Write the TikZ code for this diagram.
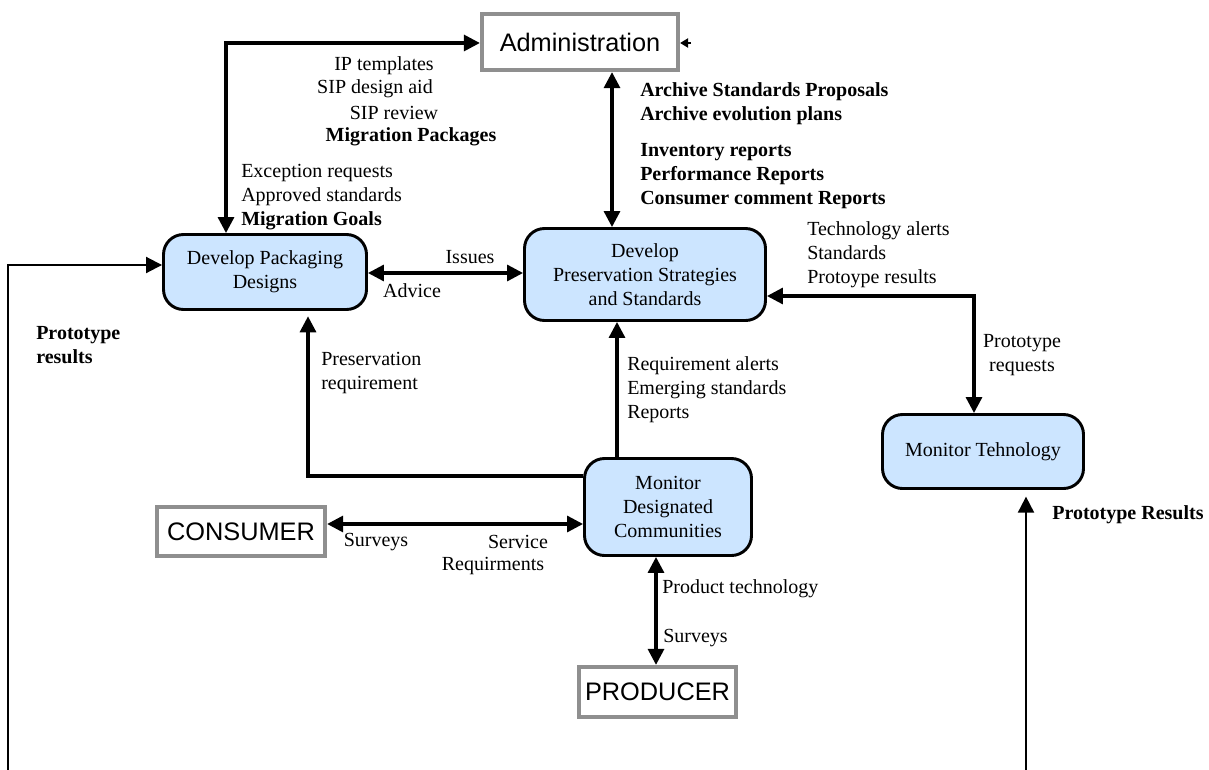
\documentclass[tikz,border=0pt]{standalone}
\usepackage{fontspec}
\setmainfont{Liberation Serif}
\newfontfamily\extfont{Liberation Sans}
\usetikzlibrary{arrows.meta,positioning}
\definecolor{procblue}{RGB}{204,229,255}
\definecolor{extgray}{RGB}{143,143,143}

\begin{document}
\begin{tikzpicture}[x=0.75pt,y=0.75pt,yscale=-1,xscale=1,
	process/.style={draw,line width=2.2pt,fill=procblue,rounded corners=15pt,align=center,inner sep=0pt,font=\fontsize{15}{18}\selectfont},
	entity/.style={draw=extgray,line width=3.2pt,fill=white,inner sep=0pt,font=\extfont\fontsize{19}{22}\selectfont},
	lbl/.style={inner sep=0pt,align=left,font=\fontsize{15}{18}\selectfont},
	blbl/.style={inner sep=0pt,align=left,font=\fontsize{15}{18}\selectfont\bfseries},
	flow/.style={line width=2.4pt,-{Triangle[length=12pt,width=12pt]}},
	dflow/.style={line width=2.4pt,{Triangle[length=12pt,width=12pt]}-{Triangle[length=12pt,width=12pt]}}]
		%set diagram at 1209 x 770
		\useasboundingbox (0,0) rectangle (1209,770);
		
		%Shape: Entity boxes
		\node[entity,minimum width=147pt,minimum height=42pt] (admin) at (580,42) {Administration};
		\node[entity,minimum width=126pt,minimum height=36.75pt] (consumer) at (241,531.5) {CONSUMER};
		\node[entity,minimum width=117.75pt,minimum height=37.5pt] (producer) at (657.5,692) {PRODUCER};
		
		%Shape: Rounded Rectangles
		\node[process,minimum width=152.25pt,minimum height=56.25pt] (pack) at (265,272) {Develop Packaging\\Designs};
		\node[process,minimum width=180.75pt,minimum height=69pt] (pres) at (645,274.5) {Develop\\Preservation Strategies\\and Standards};
		\node[process,minimum width=125.25pt,minimum height=72.75pt] (mdc) at (668,507) {Monitor\\Designated\\Communities};
		\node[process,minimum width=150.75pt,minimum height=55.5pt] (mtech) at (983,451.5) {Monitor Tehnology};
		
		%Bend points and free ends
		\coordinate (c1) at (226,43);
		\coordinate (c2) at (612,0);
		\coordinate (c4) at (308,476);
		\coordinate (c5) at (617,0);
		\coordinate (c6) at (0,524);
		\coordinate (c7) at (656,0);
		\coordinate (c8) at (974,296);
		\coordinate (lt) at (8,265);
		\coordinate (lb) at (8,770);
		\coordinate (rb) at (1026,770);
		\coordinate (ae) at (691,43);
		
		%Straight Lines
		\draw[dflow] (pack.north -| c1) -- (c1) -- (admin.west |- c1);
		\draw[dflow] (admin.south -| c2) -- (pres.north -| c2);
		\draw[dflow] (pack.east |- 0,273) -- (pres.west |- 0,273);
		\draw[flow,shorten >=4pt] (mdc.west |- c4) -- (c4) -- (pack.south -| c4);
		\draw[flow] (mdc.north -| c5) -- (pres.south -| c5);
		\draw[dflow] (consumer.east |- c6) -- (mdc.west |- c6);
		\draw[dflow] (mdc.south -| c7) -- (producer.north -| c7);
		\draw[dflow] (pres.east |- c8) -- (c8) -- (mtech.north -| c8);
		\draw[flow,line width=1.5pt] (lb) -- (lt) -- (pack.west |- lt);
		\draw[flow,line width=1.5pt,shorten >=5pt] (rb) -- (mtech.south -| rb);
		\draw[line width=1pt,-{Triangle[length=6pt,width=7pt]}] (ae) -- (admin.east |- ae);
		
		% Text Node
		\node[lbl] (iptpl) at (384,66) {IP templates};
		% Text Node
		\node[lbl] (sipaid) at (375,89) {SIP design aid};
		% Text Node
		\node[lbl] (siprev) at (394,113) {SIP review};
		% Text Node
		\node[blbl] (migpk) at (411,137) {Migration Packages};
		% Text Node
		\node[lbl,anchor=west] (excreq) at (241,197) {Exception requests\\Approved standards\\\textbf{Migration Goals}};
		% Text Node
		\node[blbl,anchor=west] (archstd) at (640,103.5) {Archive Standards Proposals\\Archive evolution plans};
		% Text Node
		\node[blbl,anchor=west] (invrep) at (640,176) {Inventory reports\\Performance Reports\\Consumer comment Reports};
		% Text Node
		\node[lbl] (issues) at (470,257) {Issues};
		% Text Node
		\node[lbl] (advice) at (412,291) {Advice};
		% Text Node
		\node[lbl,anchor=west] (presreq) at (321,373.5) {Preservation\\requirement};
		% Text Node
		\node[lbl,anchor=west] (reqal) at (627,390) {Requirement alerts\\Emerging standards\\Reports};
		% Text Node
		\node[lbl,anchor=west] (techal) at (807,255) {Technology alerts\\Standards\\Protoype results};
		% Text Node
		\node[lbl,align=center] (protreq) at (1022,355.5) {Prototype\\requests};
		% Text Node
		\node[blbl,anchor=west] (protresl) at (36,345) {Prototype\\results};
		% Text Node
		\node[blbl,anchor=west] (protresr) at (1052,515) {Prototype Results};
		% Text Node
		\node[lbl] (survc) at (376,542) {Surveys};
		% Text Node
		\node[lbl] (serv) at (518,542) {Service};
		% Text Node
		\node[lbl] (reqm) at (493,566) {Requirments};
		% Text Node
		\node[lbl,anchor=west] (prodtech) at (662,589) {Product technology};
		% Text Node
		\node[lbl,anchor=west] (survp) at (663,638) {Surveys};
		
\end{tikzpicture}
\end{document}
